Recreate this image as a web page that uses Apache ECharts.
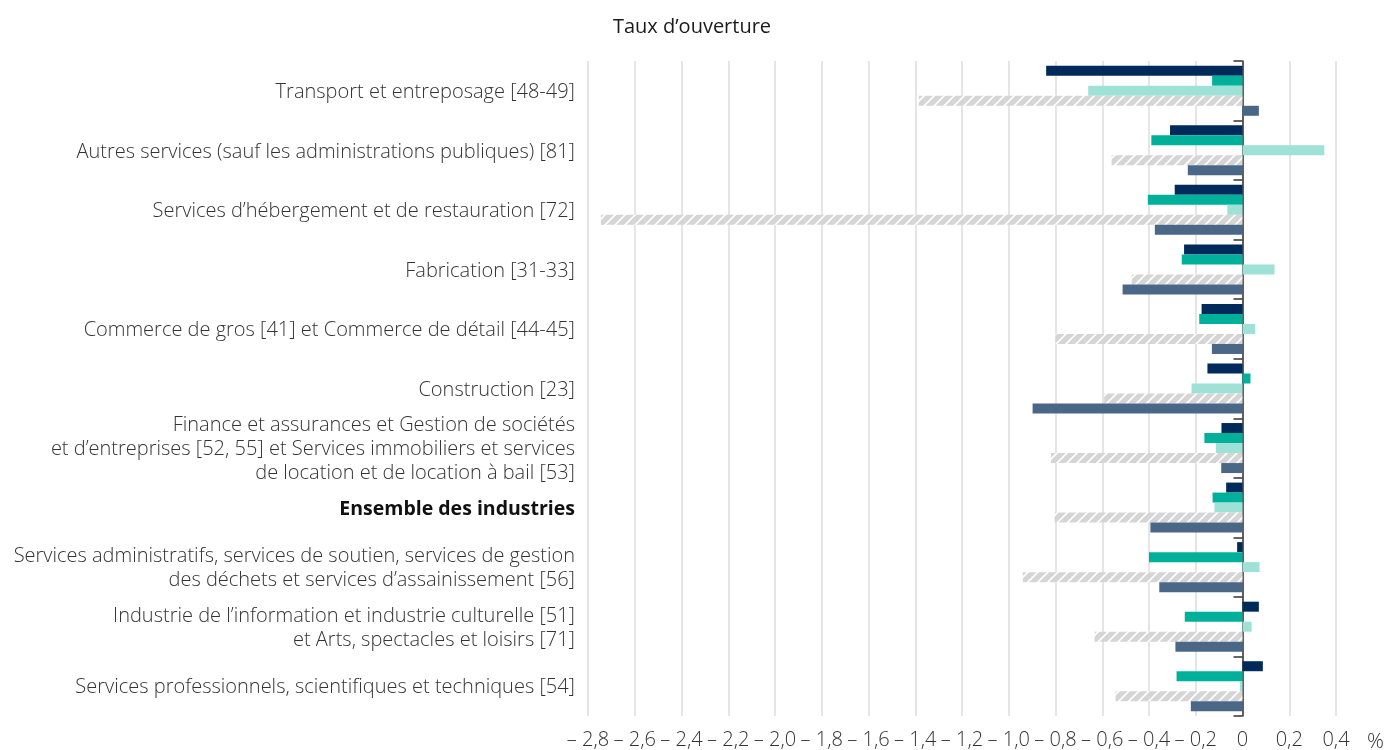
<!DOCTYPE html>
<html>
<head>
<meta charset="utf-8">
<script src="https://cdn.jsdelivr.net/npm/echarts@6/dist/echarts.min.js"></script>
<style>
  html, body { margin: 0; padding: 0; background: #fff; }
  #chart { width: 1384px; height: 750px; }
</style>
</head>
<body>
<div id="chart"></div>
<script>
// catégories (de haut en bas)
const categories = [
  "Transport et entreposage [48-49]",
  "Autres services (sauf les administrations publiques) [81]",
  "Services d’hébergement et de restauration [72]",
  "Fabrication [31-33]",
  "Commerce de gros [41] et Commerce de détail [44-45]",
  "Construction [23]",
  "Finance et assurances et Gestion de sociétés\net d’entreprises [52, 55] et Services immobiliers et services\nde location et de location à bail [53]",
  "Ensemble des industries",
  "Services administratifs, services de soutien, services de gestion\ndes déchets et services d’assainissement [56]",
  "Industrie de l’information et industrie culturelle [51]\net Arts, spectacles et loisirs [71]",
  "Services professionnels, scientifiques et techniques [54]",
];
// valeurs des séries (%)
const serie1 = [-0.84, -0.31, -0.29, -0.25, -0.175, -0.15, -0.09, -0.07, -0.023, 0.07, 0.087];
const serie2 = [-0.13, -0.39, -0.405, -0.26, -0.185, 0.034, -0.163, -0.128, -0.40, -0.247, -0.282];
const serie3 = [-0.66, 0.35, -0.065, 0.137, 0.054, -0.218, -0.114, -0.12, 0.073, 0.039, -0.011];
const serie4 = [-1.385, -0.56, -2.745, -0.474, -0.80, -0.592, -0.82, -0.804, -0.94, -0.633, -0.543];
const serie5 = [0.07, -0.234, -0.375, -0.513, -0.131, -0.898, -0.091, -0.394, -0.356, -0.287, -0.221];
const seriesNames = ["Série 1", "Série 2", "Série 3", "Série 4", "Série 5"];
// graduations de l'axe
const xMin = -2.8;
const xMax = 0.4;
const xStep = 0.2;

// motif hachuré
const hatch = document.createElement("canvas");
hatch.width = 10;
hatch.height = 10;
const ctx = hatch.getContext("2d");
ctx.fillStyle = "#d5d5d5";
ctx.fillRect(0, 0, 10, 10);
ctx.strokeStyle = "#ffffff";
ctx.lineWidth = 1.6;
ctx.beginPath();
ctx.moveTo(-1, 11); ctx.lineTo(11, -1);
ctx.moveTo(-6, 6); ctx.lineTo(6, -6);
ctx.moveTo(4, 16); ctx.lineTo(16, 4);
ctx.stroke();

const colors = ["#002a5a", "#00b09b", "#9ee1d7", { image: hatch, repeat: "repeat" }, "#4b6788"];
const values = [serie1, serie2, serie3, serie4, serie5];

const labelFont = "'Open Sans', sans-serif";

const option = {
  animation: false,
  title: [
    {
      text: "Taux d’ouverture",
      left: "center",
      top: 12,
      textStyle: { fontFamily: labelFont, fontSize: 20, fontWeight: "normal", color: "#1a1a1a" },
    },
    {
      text: "%",
      left: 1362,
      top: 727,
      textStyle: { fontFamily: labelFont, fontSize: 21, fontWeight: 300, color: "#333" },
    },
  ],
  grid: {
    left: 588,
    right: 48,
    top: 61,
    bottom: 34,
  },
  xAxis: {
    type: "value",
    min: xMin,
    max: xMax,
    interval: xStep,
    axisLine: { show: false },
    axisTick: { show: false },
    axisLabel: {
      margin: 14,
      fontFamily: labelFont,
      fontSize: 20,
      fontWeight: 300,
      color: "#333",
      formatter: (v) => {
        const r = Math.round(v * 10) / 10;
        if (r === 0) return "0";
        const s = Math.abs(r).toFixed(1).replace(".", ",");
        return r < 0 ? "– " + s : s;
      },
    },
    splitLine: {
      lineStyle: { color: "#dcdcdc", width: 1.5 },
    },
  },
  yAxis: [
    {
      // axe sur le zéro avec graduations
      type: "category",
      inverse: true,
      data: categories,
      axisLine: { onZero: true, lineStyle: { color: "#333", width: 1.5 } },
      axisTick: { show: true, length: 9, lineStyle: { color: "#333", width: 1.5 } },
      axisLabel: { show: false },
    },
    {
      // libellés à gauche
      type: "category",
      inverse: true,
      position: "left",
      data: categories,
      axisLine: { show: false, onZero: false },
      axisTick: { show: false },
      axisLabel: {
        margin: 13,
        fontFamily: labelFont,
        fontSize: 20,
        fontWeight: 300,
        lineHeight: 24,
        padding: [3, 0, 0, 0],
        color: "#333",
        align: "right",
        formatter: (v) => (v === "Ensemble des industries" ? "{b|" + v + "}" : v),
        rich: {
          b: { fontFamily: labelFont, fontSize: 19.5, fontWeight: "bold", color: "#111" },
        },
      },
    },
  ],
  series: values.map((data, i) => ({
    name: seriesNames[i],
    type: "bar",
    yAxisIndex: 0,
    data: data,
    barGap: "0%",
    barCategoryGap: "16%",
    itemStyle: { color: colors[i] },
  })),
};

const chart = echarts.init(document.getElementById("chart"));
chart.setOption(option);
</script>
</body>
</html>
